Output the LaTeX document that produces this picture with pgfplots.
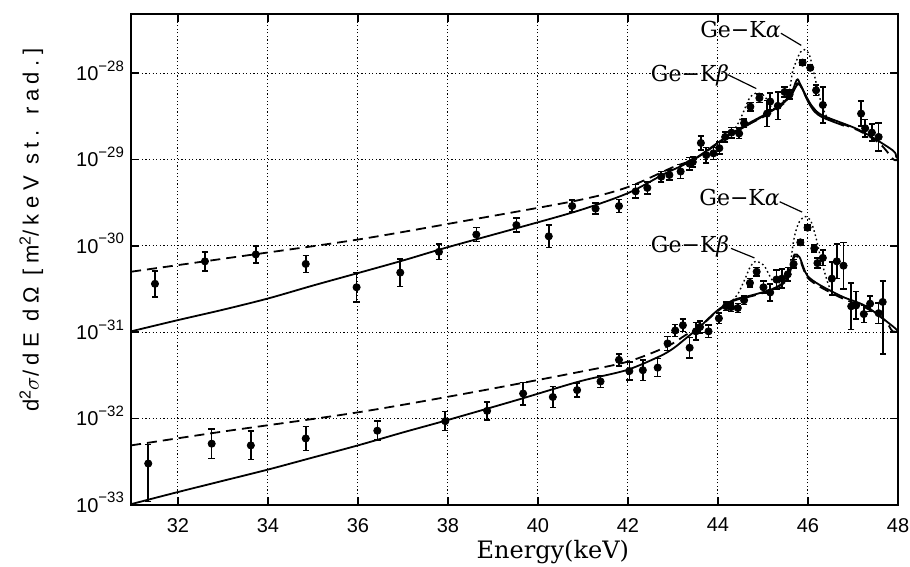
\documentclass[border=0pt]{standalone}
\usepackage{fontspec}
\setsansfont{Liberation Sans}
\newfontfamily\ylabfont[LetterSpace=25]{Liberation Sans}
\newfontfamily\dvserif{DejaVu Serif}
\usepackage{pgfplots}
\usepackage{pgfplotstable}
\pgfplotsset{compat=1.18}

% measured points, log10 of the cross section
\pgfplotstableread{
x y ep em
31.49 -30.44 0.15 0.15
32.60 -30.18 0.11 0.11
33.73 -30.10 0.10 0.10
34.84 -30.21 0.10 0.10
35.97 -30.48 0.17 0.17
36.94 -30.31 0.16 0.16
37.80 -30.07 0.09 0.09
38.63 -29.87 0.08 0.08
39.52 -29.76 0.08 0.08
40.24 -29.89 0.13 0.13
40.76 -29.54 0.07 0.07
41.28 -29.57 0.065 0.065
41.80 -29.54 0.075 0.075
42.17 -29.37 0.08 0.08
42.43 -29.33 0.07 0.07
42.74 -29.20 0.06 0.06
42.92 -29.18 0.06 0.06
43.17 -29.14 0.08 0.08
43.37 -29.05 0.07 0.07
43.44 -29.03 0.06 0.06
43.62 -28.81 0.08 0.08
43.74 -28.95 0.09 0.09
43.90 -28.93 0.07 0.07
44.03 -28.87 0.07 0.07
44.16 -28.74 0.06 0.06
44.30 -28.69 0.06 0.06
44.47 -28.70 0.06 0.06
44.58 -28.58 0.05 0.05
44.72 -28.39 0.05 0.05
44.92 -28.29 0.05 0.05
45.09 -28.47 0.15 0.15
45.16 -28.33 0.10 0.10
45.33 -28.38 0.16 0.16
45.48 -28.22 0.06 0.06
45.59 -28.25 0.05 0.05
45.88 -27.88 0.03 0.03
46.05 -27.94 0.03 0.03
46.18 -28.20 0.06 0.06
46.33 -28.37 0.21 0.21
47.18 -28.47 0.145 0.145
47.27 -28.64 0.10 0.10
47.42 -28.69 0.10 0.10
47.57 -28.74 0.16 0.16
}\upperdata

\pgfplotstableread{
x y ep em
31.34 -32.52 0.22 0.44
32.75 -32.29 0.17 0.17
33.62 -32.31 0.165 0.165
34.84 -32.23 0.14 0.14
36.43 -32.14 0.11 0.11
37.94 -32.03 0.11 0.11
38.87 -31.91 0.105 0.105
39.67 -31.71 0.13 0.13
40.33 -31.75 0.12 0.12
40.87 -31.67 0.08 0.08
41.39 -31.57 0.07 0.07
41.80 -31.32 0.07 0.07
42.03 -31.45 0.105 0.105
42.33 -31.44 0.12 0.12
42.66 -31.41 0.105 0.105
42.88 -31.13 0.08 0.08
43.05 -30.98 0.07 0.07
43.22 -30.92 0.07 0.07
43.37 -31.18 0.12 0.12
43.51 -30.99 0.10 0.10
43.60 -30.94 0.07 0.07
43.79 -30.99 0.07 0.07
44.02 -30.84 0.06 0.06
44.18 -30.70 0.05 0.05
44.29 -30.71 0.05 0.05
44.44 -30.72 0.05 0.05
44.58 -30.63 0.05 0.05
44.71 -30.43 0.05 0.05
44.86 -30.30 0.05 0.05
45.01 -30.48 0.07 0.07
45.16 -30.54 0.10 0.10
45.30 -30.39 0.11 0.11
45.42 -30.38 0.11 0.11
45.55 -30.33 0.08 0.08
45.68 -30.21 0.05 0.05
45.83 -29.96 0.03 0.03
45.99 -29.79 0.03 0.03
46.14 -30.03 0.04 0.04
46.21 -30.20 0.06 0.06
46.33 -30.14 0.09 0.09
46.53 -30.38 0.19 0.19
46.64 -30.18 0.20 0.20
46.79 -30.23 0.27 0.27
46.96 -30.70 0.27 0.27
47.07 -30.69 0.16 0.16
47.24 -30.79 0.10 0.10
47.38 -30.67 0.09 0.09
47.57 -30.78 0.12 0.12
47.66 -30.65 0.24 0.60
}\lowerdata

\begin{document}
\begin{tikzpicture}
\begin{axis}[
    name=ax,
    width=383.5pt, height=245.5pt, scale only axis,
    xmin=30.957, xmax=48, ymin=-33, ymax=-27.317,
    xtick={32,34,...,48},
    ytick={-33,-32,-31,-30,-29,-28},
    yticklabels={10\raisebox{4.6pt}{\fontsize{7.5}{9}\selectfont−33},
                 10\raisebox{4.6pt}{\fontsize{7.5}{9}\selectfont−32},
                 10\raisebox{4.6pt}{\fontsize{7.5}{9}\selectfont−31},
                 10\raisebox{4.6pt}{\fontsize{7.5}{9}\selectfont−30},
                 10\raisebox{4.6pt}{\fontsize{7.5}{9}\selectfont−29},
                 10\raisebox{4.6pt}{\fontsize{7.5}{9}\selectfont−28}},
    /pgf/number format/assume math mode=true,
    xticklabel style={font=\sffamily\fontsize{10}{12}\selectfont, yshift=-3pt},
    yticklabel style={font=\sffamily\fontsize{10}{12}\selectfont, anchor=base east, yshift=-3.6pt},
    grid=major,
    grid style={black, line width=0.5pt, dash pattern=on 0.6pt off 1.2pt},
    axis line style={line width=1pt},
    tick align=inside, major tick length=4pt,
    tick style={black, line width=0.8pt},
    xlabel={Energy(keV)},
    xlabel style={font=\dvserif\fontsize{12}{14}\selectfont, at={(axis description cs:0.55,-0.096)}, anchor=center},
    ylabel={d\raisebox{4pt}{\fontsize{8}{9}\selectfont 2}$\sigma$/dE dΩ [m\raisebox{4pt}{\fontsize{8}{9}\selectfont 2}/keV st. rad.]},
    ylabel style={font=\ylabfont\fontsize{11}{13}\selectfont, at={(axis description cs:-0.130,0.56)}, anchor=center, rotate=0},
]
% upper spectrum: curves
\addplot[black, line width=0.9pt, smooth] table {
30.96 -30.99
32.00 -30.86
33.00 -30.74
34.00 -30.61
35.00 -30.46
35.97 -30.32
37.00 -30.17
37.97 -30.02
39.50 -29.80
40.92 -29.59
42.00 -29.39
42.80 -29.17
43.43 -29.01
44.18 -28.74
44.62 -28.60
45.21 -28.43
45.59 -28.27
45.75 -28.08
45.82 -28.12
45.96 -28.27
46.10 -28.39
46.32 -28.49
47.14 -28.66
47.87 -28.89
47.96 -28.97
48.00 -28.99
};
\addplot[black, line width=0.9pt, smooth] table {
44.50 -28.65
45.00 -28.50
45.40 -28.37
45.62 -28.26
45.77 -28.13
45.86 -28.17
46.00 -28.33
46.15 -28.45
46.35 -28.52
46.80 -28.61
};
\addplot[black, line width=0.9pt, smooth, dash pattern=on 5pt off 3pt] table {
30.96 -30.30
33.00 -30.15
35.97 -29.93
38.50 -29.70
40.92 -29.47
42.00 -29.32
43.00 -29.09
43.50 -28.99
44.18 -28.75
44.62 -28.61
45.21 -28.45
45.59 -28.29
45.76 -28.12
45.84 -28.15
45.98 -28.30
46.12 -28.41
46.34 -28.50
47.14 -28.67
47.60 -28.82
47.90 -29.00
48.00 -29.00
};
\addplot[black, line width=0.7pt, smooth, dash pattern=on 0.8pt off 1.4pt] table {
44.18 -28.74
44.33 -28.68
44.45 -28.58
44.55 -28.47
44.63 -28.37
44.70 -28.29
44.78 -28.25
44.85 -28.23
44.95 -28.24
45.04 -28.27
45.11 -28.33
45.18 -28.39
45.27 -28.42
45.36 -28.39
45.45 -28.33
45.53 -28.25
45.59 -28.20
45.66 -27.98
45.75 -27.85
45.83 -27.76
45.92 -27.73
46.03 -27.79
46.14 -28.02
46.21 -28.18
46.28 -28.32
46.35 -28.43
46.42 -28.51
46.50 -28.53
};
% lower spectrum: curves
\addplot[black, line width=0.9pt, smooth] table {
30.96 -32.99
32.00 -32.85
33.00 -32.72
34.00 -32.59
35.00 -32.45
36.00 -32.31
37.00 -32.16
37.97 -32.02
39.50 -31.79
40.92 -31.57
41.96 -31.44
42.70 -31.28
43.00 -31.19
43.29 -31.07
43.59 -30.94
43.96 -30.76
44.33 -30.63
44.77 -30.57
45.21 -30.50
45.51 -30.40
45.62 -30.25
45.70 -30.10
45.81 -30.13
45.90 -30.25
45.99 -30.35
46.25 -30.45
46.77 -30.59
47.29 -30.70
47.88 -30.93
48.00 -30.99
};
\addplot[black, line width=0.9pt, smooth, dash pattern=on 5pt off 3pt] table {
30.96 -32.31
33.00 -32.15
35.97 -31.93
38.50 -31.70
40.92 -31.46
42.00 -31.34
42.85 -31.17
43.29 -31.03
43.59 -30.94
43.96 -30.77
44.33 -30.64
44.77 -30.58
45.21 -30.51
45.51 -30.41
45.62 -30.27
45.70 -30.12
45.81 -30.15
45.90 -30.27
45.99 -30.37
46.25 -30.47
46.77 -30.61
47.29 -30.72
47.70 -30.86
47.88 -30.99
48.00 -30.99
};
\addplot[black, line width=0.7pt, smooth, dash pattern=on 0.8pt off 1.4pt] table {
44.33 -30.63
44.45 -30.55
44.55 -30.44
44.62 -30.36
44.70 -30.26
44.78 -30.20
44.85 -30.18
44.95 -30.20
45.04 -30.24
45.12 -30.32
45.21 -30.40
45.30 -30.43
45.40 -30.42
45.50 -30.37
45.59 -30.28
45.65 -30.05
45.70 -29.89
45.76 -29.78
45.81 -29.72
45.92 -29.66
46.00 -29.68
46.07 -29.72
46.18 -29.91
46.29 -30.16
46.40 -30.36
46.47 -30.47
46.55 -30.52
};
% data points
\addplot[only marks, mark=*, mark size=1.8pt, black,
    error bars/.cd, y dir=both, y explicit,
    error bar style={line width=0.8pt},
    error mark options={rotate=90, line width=0.8pt, mark size=1.6pt}]
    table[x=x, y=y, y error plus=ep, y error minus=em] {\upperdata};
\addplot[only marks, mark=*, mark size=1.8pt, black,
    error bars/.cd, y dir=both, y explicit,
    error bar style={line width=0.8pt},
    error mark options={rotate=90, line width=0.8pt, mark size=1.6pt}]
    table[x=x, y=y, y error plus=ep, y error minus=em] {\lowerdata};
% line labels
\node[font=\dvserif\fontsize{11}{13}\selectfont] at (axis cs:44.50,-27.50) {Ge−K\textit{α}};
\draw[line width=0.6pt] (axis cs:45.40,-27.54) -- (axis cs:45.85,-27.68);
\node[font=\dvserif\fontsize{11}{13}\selectfont] at (axis cs:43.38,-28.03) {Ge−K\textit{β}};
\draw[line width=0.6pt] (axis cs:44.22,-28.02) -- (axis cs:44.85,-28.18);
\node[font=\dvserif\fontsize{11}{13}\selectfont] at (axis cs:44.48,-29.44) {Ge−K\textit{α}};
\draw[line width=0.6pt] (axis cs:45.37,-29.49) -- (axis cs:45.87,-29.61);
\node[font=\dvserif\fontsize{11}{13}\selectfont] at (axis cs:43.38,-30.01) {Ge−K\textit{β}};
\draw[line width=0.6pt] (axis cs:44.29,-30.03) -- (axis cs:44.81,-30.14);
\end{axis}
\pgfresetboundingbox
\path[use as bounding box] ([shift={(-65.5pt,-31pt)}]ax.south west) rectangle ([shift={(6pt,7pt)}]ax.north east);
\end{tikzpicture}
\end{document}
